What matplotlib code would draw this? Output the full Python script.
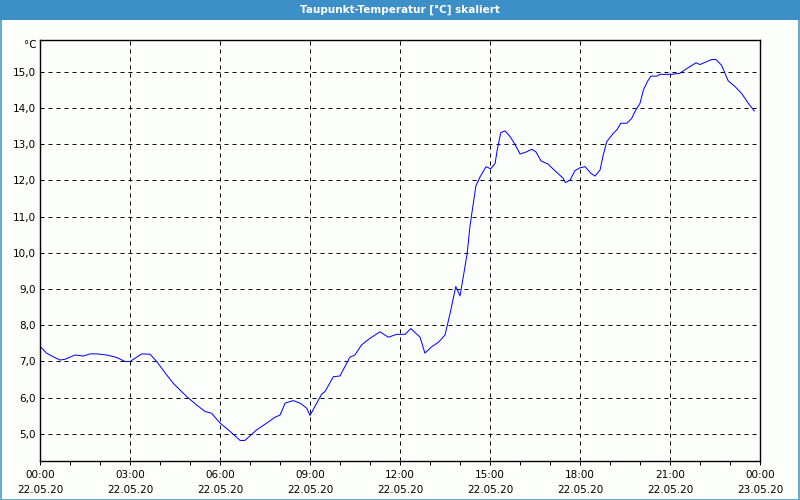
import matplotlib.pyplot as plt
from matplotlib.patches import Rectangle

# Dew point readings, hours since 22.05.20 00:00
hours = [0, 0.22, 0.44, 0.67, 0.83, 1.17, 1.44, 1.67, 1.89, 2.22, 2.56, 2.83, 3.0, 3.17,
         3.39, 3.67, 3.89, 4.22, 4.44, 4.89, 5.22, 5.5, 5.72, 6.0, 6.28, 6.67, 6.83, 7.22,
         7.56, 7.83, 8.0, 8.17, 8.44, 8.67, 8.89, 9.0, 9.39, 9.5, 9.78, 10.0, 10.33, 10.5,
         10.72, 11.0, 11.33, 11.61, 11.89, 12.17, 12.36, 12.67, 12.83, 13.06, 13.28, 13.5,
         13.67, 13.86, 14.0, 14.11, 14.24, 14.33, 14.41, 14.53, 14.67, 14.87, 15.02, 15.17,
         15.24, 15.36, 15.5, 15.67, 15.83, 16.0, 16.22, 16.39, 16.53, 16.7, 16.94, 17.11,
         17.28, 17.44, 17.51, 17.67, 17.83, 18.0, 18.17, 18.36, 18.5, 18.67, 18.76, 18.89,
         19.11, 19.24, 19.36, 19.56, 19.72, 19.83, 20.0, 20.11, 20.24, 20.36, 20.56, 20.67,
         21.06, 21.33, 21.56, 21.87, 22.0, 22.22, 22.39, 22.53, 22.72, 22.94, 23.17, 23.39,
         23.61, 23.81]
dewpoint = [7.42, 7.23, 7.13, 7.04, 7.06, 7.18, 7.15, 7.21, 7.21, 7.18, 7.11, 7.0, 7.0, 7.09,
            7.21, 7.2, 7.0, 6.63, 6.4, 6.03, 5.8, 5.62, 5.57, 5.3, 5.11, 4.82, 4.82, 5.11,
            5.3, 5.46, 5.52, 5.85, 5.92, 5.85, 5.71, 5.51, 6.1, 6.17, 6.58, 6.6, 7.12, 7.18,
            7.46, 7.64, 7.82, 7.67, 7.75, 7.75, 7.91, 7.67, 7.23, 7.41, 7.53, 7.73,
            8.33, 9.07, 8.81, 9.34, 9.99, 10.72, 11.18, 11.85, 12.1, 12.38, 12.32, 12.47,
            12.84, 13.32, 13.37, 13.21, 13.0, 12.73, 12.79, 12.86, 12.79, 12.54, 12.45, 12.31,
            12.18, 12.06, 11.94, 12.01, 12.27, 12.35, 12.38, 12.2, 12.12, 12.29, 12.65, 13.07,
            13.3, 13.41, 13.58, 13.58, 13.71, 13.9, 14.13, 14.49, 14.72, 14.88, 14.88, 14.93,
            14.93, 14.96, 15.09, 15.25, 15.2, 15.28, 15.34, 15.34, 15.18, 14.75, 14.59, 14.4,
            14.13, 13.92]

xtick_hours = [0, 3, 6, 9, 12, 15, 18, 21, 24]
xtick_labels = ['00:00\n22.05.20', '03:00\n22.05.20', '06:00\n22.05.20', '09:00\n22.05.20',
                '12:00\n22.05.20', '15:00\n22.05.20', '18:00\n22.05.20', '21:00\n22.05.20',
                '00:00\n23.05.20']
ytick_values = [5, 6, 7, 8, 9, 10, 11, 12, 13, 14, 15]
ytick_labels = ['5,0', '6,0', '7,0', '8,0', '9,0', '10,0', '11,0', '12,0', '13,0', '14,0', '15,0']

frame_blue = '#3d8fc7'
px = 0.72  # one pixel in points at 100 dpi

fig = plt.figure(figsize=(8, 5), dpi=100, facecolor='#fcfefc')

# title bar and window border
fig.patches.append(Rectangle((0, 1 - 20 / 500), 1, 20 / 500, transform=fig.transFigure,
                             facecolor=frame_blue, edgecolor='none', zorder=0))
fig.patches.append(Rectangle((0.5 / 800, 0.5 / 500), 1 - 1.5 / 800, 1 - 1 / 500,
                             transform=fig.transFigure, facecolor='none',
                             edgecolor=frame_blue, linewidth=1.5 * px, zorder=1))
fig.text(0.5, 1 - 9.5 / 500, 'Taupunkt-Temperatur [°C] skaliert', color='white',
         fontsize=7.5, fontweight='bold', ha='center', va='center')

ax = fig.add_axes([40 / 800, 1 - 460.7 / 500, 720 / 800, 420.4 / 500])
ax.set_facecolor('#fcfefc')
ax.plot(hours, dewpoint, color='#0000ff', linewidth=px)

ax.set_xlim(0, 24)
ax.set_ylim(4.26, 15.87)

ax.set_xticks(xtick_hours)
ax.set_xticklabels(xtick_labels, fontsize=7.5, linespacing=1.6)
ax.set_xticks(range(0, 25), minor=True)
ax.set_yticks(ytick_values)
ax.set_yticklabels(ytick_labels, fontsize=7.5)

ax.tick_params(axis='x', which='both', direction='out', length=3, width=px, pad=4)
ax.tick_params(axis='y', length=0, pad=3)

ax.grid(True, which='major', color='black', linewidth=px, linestyle=(0, (4, 4)))
for s in ax.spines.values():
    s.set_linewidth(1.4 * px)
    s.set_color('black')

fig.text(37 / 800, 1 - 45 / 500, '°C', fontsize=7.5, ha='right', va='center')

fig.savefig('out.png', dpi=100, facecolor=fig.get_facecolor())
